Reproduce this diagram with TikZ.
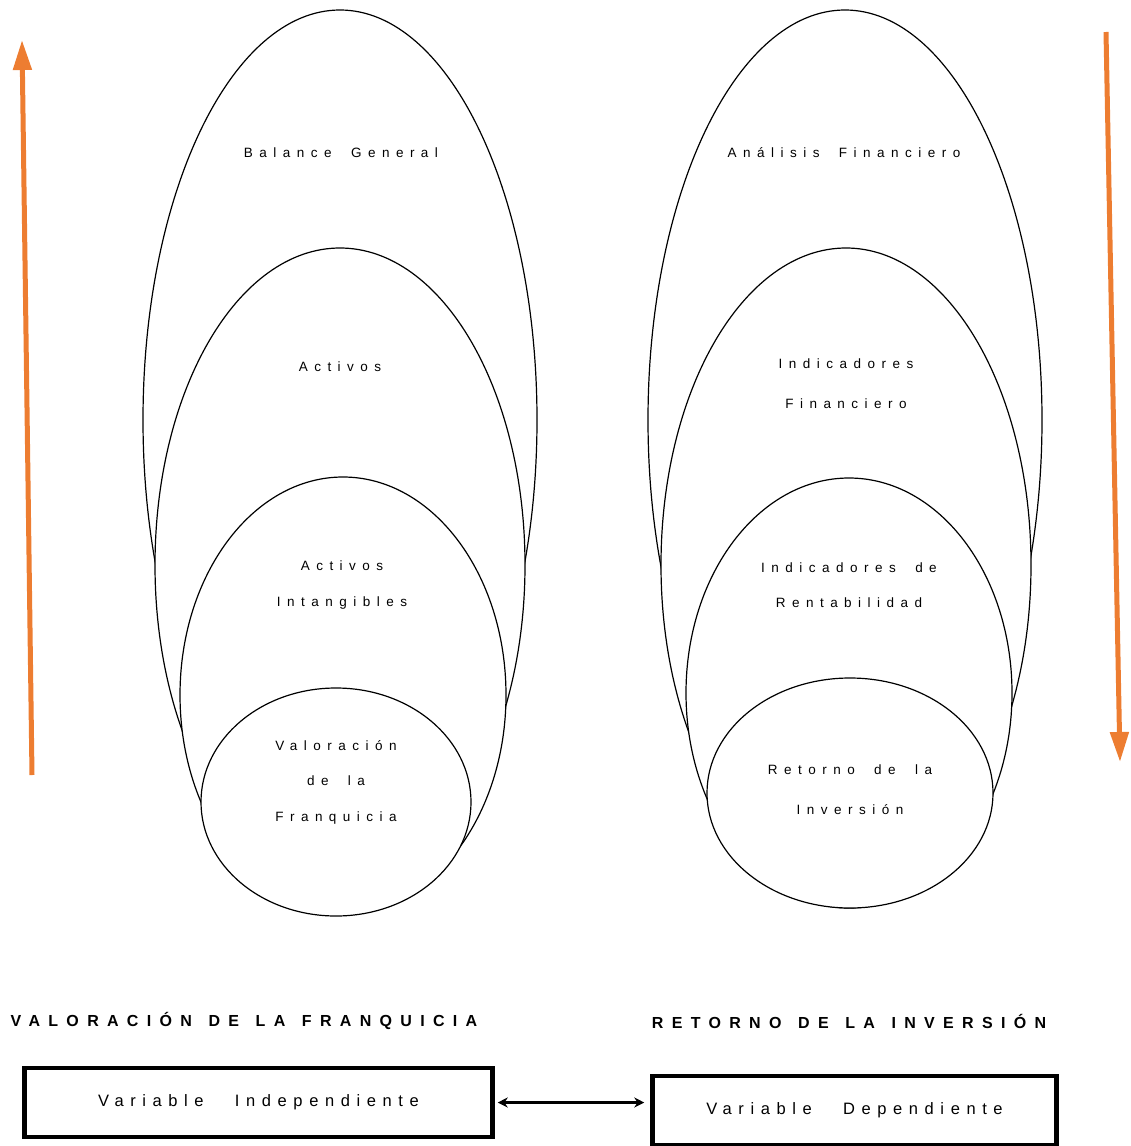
\documentclass[tikz,border=0pt]{standalone}
\usepackage{fontspec}
\setmainfont{Liberation Sans}
\newfontfamily\ringfont[LetterSpace=48,WordSpace=1.9]{Liberation Sans}
\newfontfamily\headfont[LetterSpace=52,WordSpace=1.3]{Liberation Sans}
\newfontfamily\varfont[LetterSpace=40,WordSpace=2.8]{Liberation Sans}
\usepackage{tikz}
\usetikzlibrary{arrows.meta,positioning,shapes.geometric}

\begin{document}
\begin{tikzpicture}[x=1pt,y=1pt,
  ring/.style={ellipse,draw,fill=white,line width=1.2pt,inner sep=0pt},
  lbl/.style={align=center,font=\ringfont\fontsize{13.5}{35.5}\selectfont},
  head/.style={font=\headfont\bfseries\fontsize{16}{18}\selectfont},
  varbox/.style={rectangle,draw,line width=4.5pt,align=center,font=\varfont\fontsize{16.5}{19}\selectfont},
  trend/.style={draw={rgb,255:red,237;green,125;blue,49},line width=5pt,-{Triangle[length=30pt,width=18pt]}}]
\useasboundingbox (0,0) rectangle (1130,-1146);
% left stack
\node[ring,minimum width=394,minimum height=820] (bal) at (340,-420) {};
\node[ring,minimum width=370,minimum height=634] (act) at (340,-565) {};
\node[ring,minimum width=326,minimum height=436] (intg) at (343,-695) {};
\node[ring,minimum width=270,minimum height=228] (val) at (336,-802) {};
\node[lbl] (balt) at (341,-153) {Balance General};
\node[lbl] (actt) at (340,-367) {Activos};
\node[lbl] (intgt) at (342,-585) {Activos\\Intangibles};
\node[lbl] (valt) at (336,-782) {Valoración\\de la\\Franquicia};
% right stack
\node[ring,minimum width=394,minimum height=820] (ana) at (845,-420) {};
\node[ring,minimum width=370,minimum height=634] (ind) at (846,-565) {};
\node[ring,minimum width=326,minimum height=430] (ren) at (849,-693) {};
\node[ring,minimum width=286,minimum height=230] (ret) at (850,-793) {};
\node[lbl] (anat) at (844,-153) {Análisis Financiero};
\node[lbl] (indt) at (846,-384) {Indicadores\\[4.5pt]Financiero};
\node[lbl] (rent) at (849,-585) {Indicadores de\\Rentabilidad};
\node[lbl] (rett) at (850,-790) {Retorno de la\\[4.5pt]Inversión};
% trend arrows
\coordinate (upbot) at (32,-775);
\coordinate (uptop) at (22,-40);
\coordinate (dntop) at (1106,-32);
\coordinate (dnbot) at (1120,-762);
\draw[trend] (upbot) -- (uptop);
\draw[trend] (dntop) -- (dnbot);
% variables
\node[head] (vhead) at (244,-1021) {VALORACIÓN DE LA FRANQUICIA};
\node[head] (rhead) at (849,-1021) {RETORNO DE LA INVERSIÓN};
\node[varbox,minimum width=468,minimum height=69] (indep) at (258.5,-1102.5) {Variable Independiente};
\node[varbox,minimum width=404,minimum height=69] (dep) at (854.5,-1110.5) {Variable Dependiente};
\draw[{Stealth[length=10pt,width=10pt]}-{Stealth[length=10pt,width=10pt]},line width=2.5pt]
  ([xshift=3pt]indep.east) -- ([xshift=-6pt]indep.east -| dep.west);
\end{tikzpicture}
\end{document}
